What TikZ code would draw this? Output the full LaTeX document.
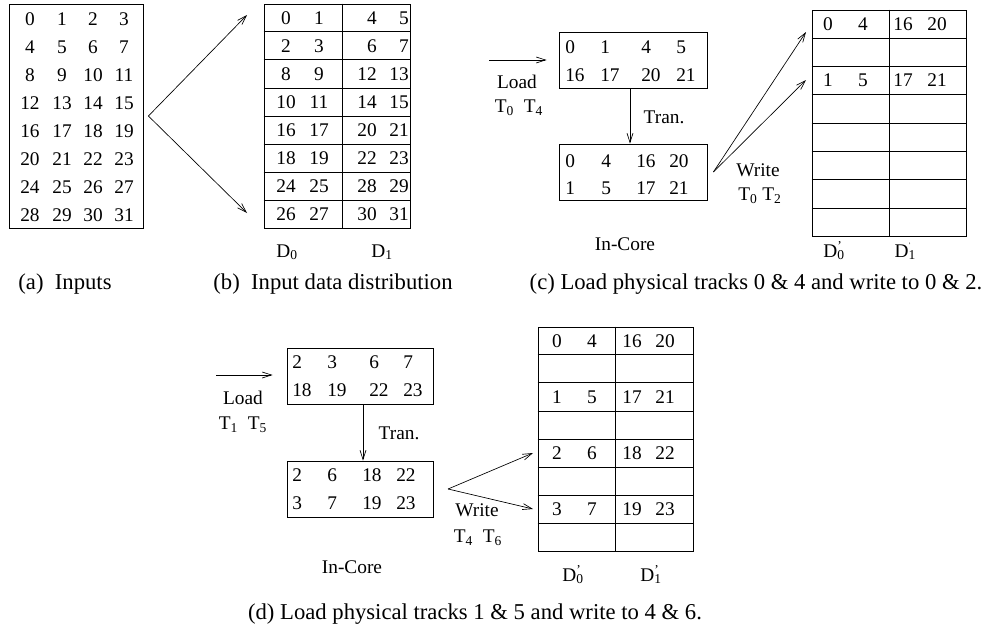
\documentclass[tikz,border=0pt]{standalone}
\usepackage{fontspec}
\setmainfont{Liberation Serif}
\usepackage{tikz}
\usetikzlibrary{arrows.meta,positioning,calc}

\newcommand{\Dlab}[2]{D\rlap{\textsubscript{#1}}\textsuperscript{#2}}

\begin{document}
\begin{tikzpicture}[x=0.75pt,y=-0.75pt,
  box/.style={rectangle, draw, line width=0.6pt, inner sep=0pt,
              minimum width=#1, minimum height=42pt},
  box/.default={111pt},
  tab/.style={rectangle, draw, line width=0.6pt, inner sep=0pt,
              minimum width=#1, minimum height=168pt},
  num/.style={font=\fontsize{14.5}{16}\selectfont, inner sep=0pt},
  numl/.style={num, anchor=west},
  lbl/.style={font=\fontsize{14.5}{16}\selectfont, inner sep=0pt},
  subcap/.style={font=\fontsize{17}{19}\selectfont, inner sep=0pt, anchor=base},
  arrow/.style={-{Straight Barb[length=7pt,width=4.5pt]}, line width=0.5pt}
]
  \useasboundingbox (0,0) rectangle (983,632);

  % (a) Inputs
  \node[tab=100.5pt] (inp) at (76,116) {};
  \foreach \r in {0,...,7}
    \foreach \c/\x in {0/30,1/62,2/93,3/124} {
      \pgfmathtruncatemacro\v{4*\r+\c}
      \node[num] (in-\r-\c) at (\x,{19+28*\r}) {\v};
    }
  \node[subcap] (capa) at (65,289) {(a)\ \ Inputs};

  % (b) Input data distribution
  \node[tab=109.5pt] (dist) at (337,116) {};
  \draw[line width=0.6pt] ([xshift=3.75pt]dist.north) -- ([xshift=3.75pt]dist.south);
  \foreach \k in {1,...,7}
    \draw[line width=0.6pt] ($(dist.north west)!\k/8!(dist.south west)$)
      -- ($(dist.north east)!\k/8!(dist.south east)$);
  \foreach \r/\a/\b/\c/\d in {0/0/1/4/5, 1/2/3/6/7, 2/8/9/12/13, 3/10/11/14/15,
      4/16/17/20/21, 5/18/19/22/23, 6/24/25/28/29, 7/26/27/30/31} {
    \node[num] (di-\r-a) at (286,{18+28*\r}) {\a};
    \node[num] (di-\r-b) at (319,{18+28*\r}) {\b};
    \node[num, anchor=east] (di-\r-c) at (377,{18+28*\r}) {\c};
    \node[num, anchor=east] (di-\r-d) at (409,{18+28*\r}) {\d};
  }
  \node[lbl, anchor=base] (dista) at (287,257) {D\textsubscript{0}};
  \node[lbl, anchor=base] (distb) at (382,257) {D\textsubscript{1}};
  \node[subcap] (capb) at (333,289) {(b)\ \ Input data distribution};

  % split arrows
  \coordinate (split) at ([xshift=3.75pt]inp.east);
  \coordinate (spup) at (247,15);
  \coordinate (spdn) at (247,213);
  \draw[arrow] (split) -- (spup);
  \draw[arrow] (split) -- (spdn);

  % (c) in-core boxes
  \node[box] (cload) at (633,60) {};
  \foreach \r/\y in {0/47,1/75}
    \foreach \x [count=\c] in {565,600,641,676}
      \coordinate (cl-\r-\c) at (\x,\y);
  \node[numl] (cl1) at (cl-0-1) {0};  \node[numl] (cl2) at (cl-0-2) {1};
  \node[numl] (cl3) at (cl-0-3) {4};  \node[numl] (cl4) at (cl-0-4) {5};
  \node[numl] (cl5) at (cl-1-1) {16}; \node[numl] (cl6) at (cl-1-2) {17};
  \node[numl] (cl7) at (cl-1-3) {20}; \node[numl] (cl8) at (cl-1-4) {21};

  \node[box] (ctran) at (633,172) {};
  \foreach \r/\y in {0/161,1/188}
    \foreach \x [count=\c] in {565,601,636,669}
      \coordinate (ct-\r-\c) at (\x,\y);
  \node[numl] (ct1) at (ct-0-1) {0};  \node[numl] (ct2) at (ct-0-2) {4};
  \node[numl] (ct3) at (ct-0-3) {16}; \node[numl] (ct4) at (ct-0-4) {20};
  \node[numl] (ct5) at (ct-1-1) {1};  \node[numl] (ct6) at (ct-1-2) {5};
  \node[numl] (ct7) at (ct-1-3) {17}; \node[numl] (ct8) at (ct-1-4) {21};

  \coordinate (cin) at (489,60);
  \draw[arrow, shorten >=9pt] (cin) -- (cload.west);
  \node[lbl] (cldtxt) at (517,82) {Load};
  \node[lbl] (cldtrk) at (519,108) {T\textsubscript{0}\ \ T\textsubscript{4}};
  \draw[arrow] ([xshift=-2.25pt]cload.south) -- ([xshift=-2.25pt]ctran.north);
  \node[lbl] (ctrtxt) at (664,117) {Tran.};
  \node[lbl] (ccore) at (625,244) {In-Core};

  % (c) output table
  \node[tab=115.5pt, minimum height=169.5pt] (cout) at (889,123) {};
  \draw[line width=0.6pt] (cout.north) -- (cout.south);
  \foreach \k in {1,...,7}
    \draw[line width=0.6pt] ($(cout.north west)!\k/8!(cout.south west)$)
      -- ($(cout.north east)!\k/8!(cout.south east)$);
  \foreach \r/\a/\b/\c/\d in {0/0/4/16/20, 2/1/5/17/21} {
    \node[num] (co-\r-a) at (828,{24+28.25*\r}) {\a};
    \node[num] (co-\r-b) at (863,{24+28.25*\r}) {\b};
    \node[num] (co-\r-c) at (903,{24+28.25*\r}) {\c};
    \node[num] (co-\r-d) at (937,{24+28.25*\r}) {\d};
  }
  \node[lbl, anchor=base] (couta) at (833,257) {\Dlab{0}{'}};
  \node[lbl, anchor=base] (coutb) at (903,257) {\Dlab{1}{\raisebox{2pt}{\tiny'}}};

  \coordinate (cwr) at ([xshift=4.5pt]ctran.east);
  \coordinate (cwup) at (806,32);
  \coordinate (cwdn) at (806,80);
  \draw[arrow] (cwr) -- (cwup);
  \draw[arrow] (cwr) -- (cwdn);
  \node[lbl] (cwrtxt) at (758,170) {Write};
  \node[lbl] (cwrtrk) at (760,196) {T\textsubscript{0}\ T\textsubscript{2}};
  \node[subcap] (capc) at (756,289) {(c) Load physical tracks 0 \& 4 and write to 0 \& 2.};

  % (d) in-core boxes
  \node[box=109.5pt] (dload) at (360,376) {};
  \foreach \r/\y in {0/362,1/390}
    \foreach \x [count=\c] in {292,327,369,403}
      \coordinate (dl-\r-\c) at (\x,\y);
  \node[numl] (dl1) at (dl-0-1) {2};  \node[numl] (dl2) at (dl-0-2) {3};
  \node[numl] (dl3) at (dl-0-3) {6};  \node[numl] (dl4) at (dl-0-4) {7};
  \node[numl] (dl5) at (dl-1-1) {18}; \node[numl] (dl6) at (dl-1-2) {19};
  \node[numl] (dl7) at (dl-1-3) {22}; \node[numl] (dl8) at (dl-1-4) {23};

  \node[box=109.5pt] (dtran) at (360,489) {};
  \foreach \r/\y in {0/475,1/503}
    \foreach \x [count=\c] in {292,327,362,396}
      \coordinate (dt-\r-\c) at (\x,\y);
  \node[numl] (dt1) at (dt-0-1) {2};  \node[numl] (dt2) at (dt-0-2) {6};
  \node[numl] (dt3) at (dt-0-3) {18}; \node[numl] (dt4) at (dt-0-4) {22};
  \node[numl] (dt5) at (dt-1-1) {3};  \node[numl] (dt6) at (dt-1-2) {7};
  \node[numl] (dt7) at (dt-1-3) {19}; \node[numl] (dt8) at (dt-1-4) {23};

  \coordinate (din) at (216,375);
  \draw[arrow, shorten >=10.5pt] (din) -- (din -| dload.west);
  \node[lbl] (dldtxt) at (243,398) {Load};
  \node[lbl] (dldtrk) at (243,425) {T\textsubscript{1}\ \ T\textsubscript{5}};
  \draw[arrow] ([xshift=2.25pt]dload.south) -- ([xshift=2.25pt]dtran.north);
  \node[lbl] (dtrtxt) at (399,433) {Tran.};
  \node[lbl] (dcore) at (352,567) {In-Core};

  % (d) output table
  \node[tab=116.25pt] (dout) at (615.5,439) {};
  \draw[line width=0.6pt] (dout.north) -- (dout.south);
  \foreach \k in {1,...,7}
    \draw[line width=0.6pt] ($(dout.north west)!\k/8!(dout.south west)$)
      -- ($(dout.north east)!\k/8!(dout.south east)$);
  \foreach \r/\a/\b/\c/\d in {0/0/4/16/20, 2/1/5/17/21, 4/2/6/18/22, 6/3/7/19/23} {
    \node[num] (do-\r-a) at (557,{341+28*\r}) {\a};
    \node[num] (do-\r-b) at (592,{341+28*\r}) {\b};
    \node[num] (do-\r-c) at (632,{341+28*\r}) {\c};
    \node[num] (do-\r-d) at (665,{341+28*\r}) {\d};
  }
  \node[lbl, anchor=base] (douta) at (572,581) {\Dlab{0}{'}};
  \node[lbl, anchor=base] (doutb) at (650,581) {\Dlab{1}{'}};

  \coordinate (dwr) at ([xshift=11pt]dtran.east);
  \coordinate (dwup) at (533,453);
  \coordinate (dwdn) at (533,509);
  \draw[arrow] (dwr) -- (dwup);
  \draw[arrow] (dwr) -- (dwdn);
  \node[lbl] (dwrtxt) at (477,510) {Write};
  \node[lbl] (dwrtrk) at (478,538) {T\textsubscript{4}\ \ T\textsubscript{6}};
  \node[subcap] (capd) at (475,619) {(d) Load physical tracks 1 \& 5 and write to 4 \& 6.};
\end{tikzpicture}
\end{document}
